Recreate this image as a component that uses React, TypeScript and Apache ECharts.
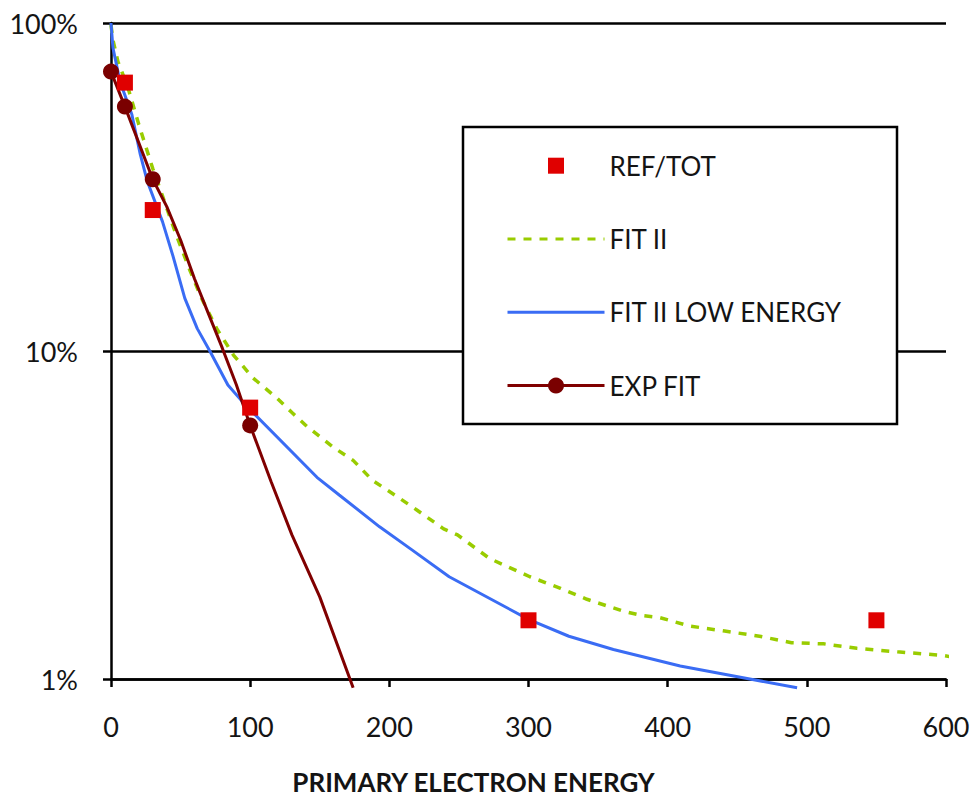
import React, { useEffect, useRef } from "react";
import * as echarts from "echarts";

// ---- Data (x: primary electron energy, y: percent) ----
const xTicks = [0, 100, 200, 300, 400, 500, 600];
const yTickLabels = ["1%", "10%", "100%"];

const refX = [10, 30, 100, 300, 550];
const refY = [65.8, 26.9, 6.72, 1.51, 1.51];

const fitX = [0, 1.4, 5, 12, 20, 30, 37, 47, 57, 65, 76, 88, 102, 119, 130, 141, 160, 174, 188, 203, 220, 239, 249, 272, 301, 323, 342, 368, 382, 394, 416, 441, 466, 489, 512, 536, 565, 598, 608];
const fitY = [98.6, 88.8, 76.2, 63.9, 49, 36, 29.7, 22.5, 17.5, 14.5, 11.7, 9.72, 8.28, 7.2, 6.49, 5.88, 5.08, 4.64, 4.03, 3.66, 3.27, 2.87, 2.75, 2.33, 2.05, 1.89, 1.75, 1.61, 1.56, 1.54, 1.45, 1.4, 1.35, 1.29, 1.28, 1.24, 1.21, 1.18, 1.16];

const lowX = [0, 1.4, 6.5, 15, 21, 26, 37, 44.5, 53, 62, 71, 84, 95, 102, 148, 164, 193, 216, 243, 300, 329, 361, 409, 459, 493];
const lowY = [100, 84, 66.2, 52.6, 39.8, 33, 24.8, 19.5, 14.5, 11.7, 10.0, 7.88, 6.96, 6.49, 4.12, 3.64, 2.91, 2.48, 2.05, 1.52, 1.35, 1.23, 1.095, 1.0, 0.94];

const expX = [0, 10, 30, 40, 50, 60, 70, 80, 90, 100, 115, 130, 150, 174];
const expY = [71.1, 55.6, 33.4, 27.6, 21.8, 16.6, 13.0, 10.2, 7.9, 5.93, 4.0, 2.75, 1.78, 0.94];
const expMarkerX = [0, 10, 30, 100];

const FONT = 'Lato, "Noto Sans", sans-serif';
const TEXT = "#141414";

export default function App() {
  const ref = useRef<HTMLDivElement>(null);
  useEffect(() => {
    document.body.style.margin = "0";
    if (!ref.current) return;
    const chart = echarts.init(ref.current, null, { renderer: "svg" });
    const zip = (xs: number[], ys: number[]) => xs.map((x, i) => [x, ys[i]]);
    chart.setOption({
      animation: false,
      backgroundColor: "#ffffff",
      grid: { left: 111, right: 27, top: 23, bottom: 117, containLabel: false },
      xAxis: {
        type: "value",
        min: xTicks[0],
        max: xTicks[xTicks.length - 1],
        interval: 100,
        name: "PRIMARY ELECTRON ENERGY",
        nameLocation: "middle",
        nameGap: 90,
        nameTextStyle: {
          fontFamily: FONT,
          fontWeight: "bold",
          fontSize: 26,
          color: TEXT,
          padding: [0, 110, 0, 0],
        },
        axisLine: { show: true, onZero: false, lineStyle: { color: "#000", width: 2.5 } },
        axisTick: { show: true, inside: false, length: 8, lineStyle: { color: "#000", width: 2.5 } },
        axisLabel: { fontFamily: FONT, fontSize: 27, color: TEXT, margin: 34 },
        splitLine: { show: false },
      },
      yAxis: {
        type: "log",
        logBase: 10,
        min: 1,
        max: 100,
        axisLine: { show: true, onZero: false, lineStyle: { color: "#000", width: 2.5 } },
        axisTick: { show: true, inside: false, length: 8, lineStyle: { color: "#000", width: 2.5 } },
        axisLabel: {
          fontFamily: FONT,
          fontSize: 27,
          color: TEXT,
          margin: 33,
          formatter: (v: number) => yTickLabels[Math.round(Math.log10(v))] ?? v + "%",
        },
        splitLine: { show: true, lineStyle: { color: "#000", width: 2.5 } },
      },
      graphic: [
        {
          type: "rect",
          z: 3,
          shape: { x: 463, y: 127, width: 434, height: 297 },
          style: { fill: "#ffffff", stroke: "#000", lineWidth: 2.5 },
        },
      ],
      legend: {
        orient: "vertical",
        left: 506,
        top: 152.7,
        padding: 0,
        z: 4,
        itemWidth: 97,
        itemHeight: 20,
        itemGap: 47.3,
        selectedMode: false,
        textStyle: { fontFamily: FONT, fontSize: 26, lineHeight: 26, color: TEXT },
        data: [
          { name: "REF/TOT", icon: "path://M-0.125,-0.125M0,0h1v1h-1zM1.125,1.125" },
          { name: "FIT II", itemStyle: { opacity: 0 }, lineStyle: { width: 3 } },
          { name: "FIT II LOW ENERGY", itemStyle: { opacity: 0 }, lineStyle: { width: 3 } },
          { name: "EXP FIT", lineStyle: { width: 3 } },
        ],
      },
      series: [
        {
          name: "FIT II",
          type: "line",
          data: zip(fitX, fitY),
          symbol: "none",
          clip: false,
          z: 2,
          itemStyle: { color: "#99cc00" },
          lineStyle: { color: "#99cc00", width: 3.5, type: [8, 8] },
        },
        {
          name: "FIT II LOW ENERGY",
          type: "line",
          data: zip(lowX, lowY),
          symbol: "none",
          clip: false,
          z: 2,
          itemStyle: { color: "#3a6cf4" },
          lineStyle: { color: "#3a6cf4", width: 3 },
        },
        {
          name: "EXP FIT",
          type: "line",
          data: expX.map((x, i) => ({
            value: [x, expY[i]],
            symbol: expMarkerX.includes(x) ? "circle" : "none",
          })),
          symbol: "circle",
          symbolSize: 16,
          showAllSymbol: true,
          clip: false,
          z: 3,
          itemStyle: { color: "#7a0000", opacity: 1 },
          lineStyle: { color: "#800000", width: 3 },
        },
        {
          name: "REF/TOT",
          type: "scatter",
          data: zip(refX, refY),
          symbol: "rect",
          symbolSize: 16,
          clip: false,
          z: 4,
          itemStyle: { color: "#e00000", opacity: 1 },
        },
      ],
    });
    return () => chart.dispose();
  }, []);
  return <div ref={ref} style={{ width: 973, height: 800 }} />;
}
